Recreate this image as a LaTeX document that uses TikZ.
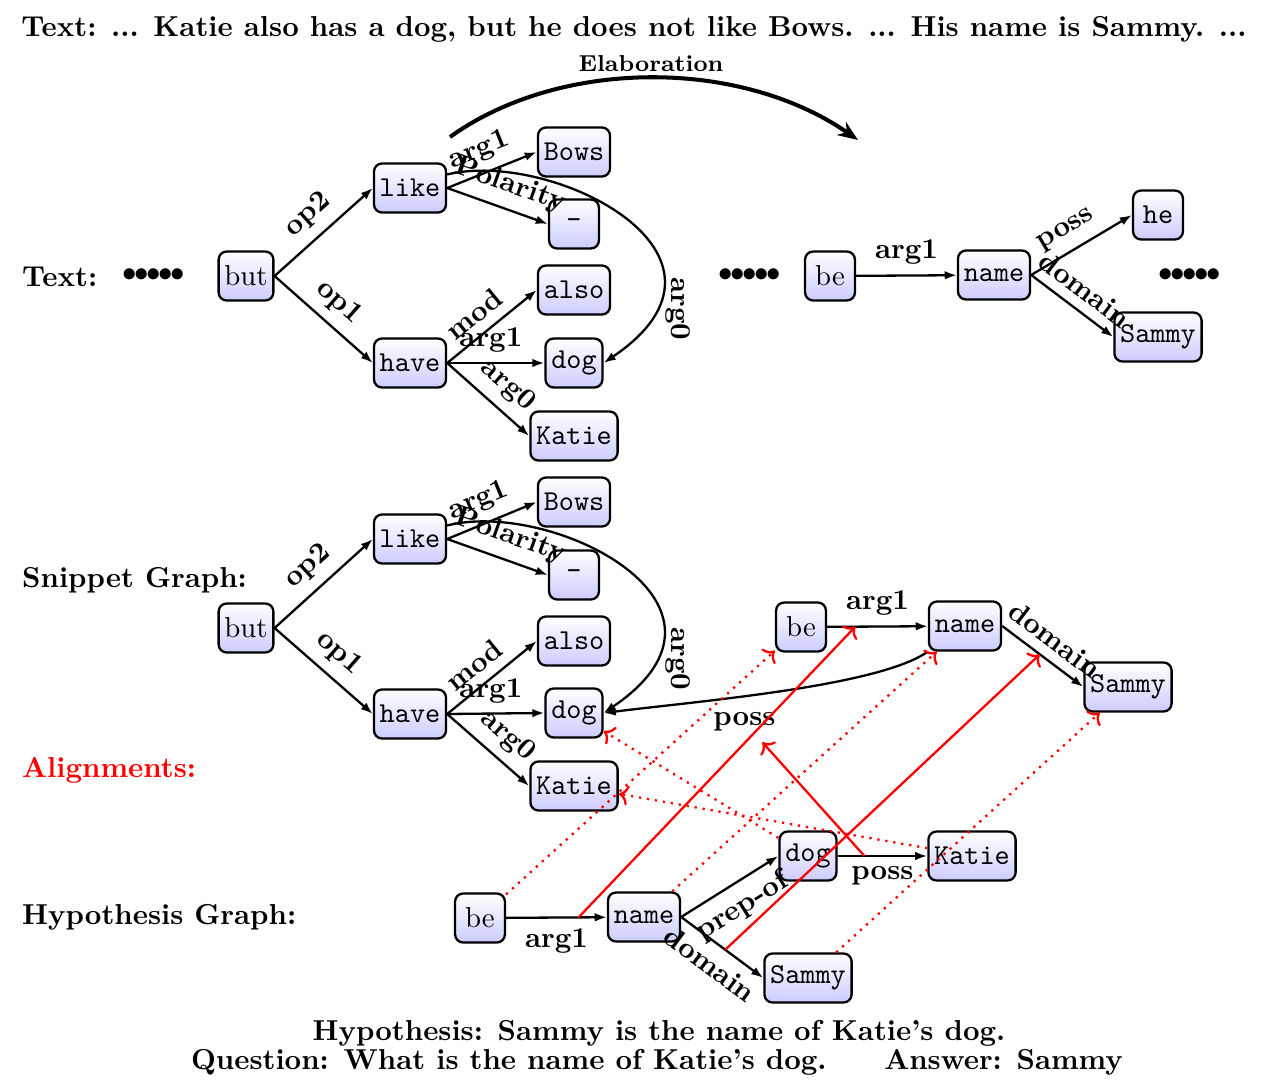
\documentclass[tikz,border=0pt]{standalone}
\usepackage{tikz}
\usetikzlibrary{arrows.meta, positioning}

\begin{document}
\begin{tikzpicture}[
  x=0.347pt, y=0.347pt,
  amr/.style={draw, thick, rounded corners=2.8pt, top color=white, bottom color=blue!20, font=\ttfamily, minimum width=17.3pt, minimum height=17pt, inner xsep=2pt},
  rel/.style={-{Latex[length=4.2pt, width=3pt]}, thick},
  lbl/.style={font=\bfseries},
  side/.style={font=\bfseries, anchor=west},
  dots/.style={font=\bfseries},
  nodealign/.style={->, red, thick, dotted},
  edgealign/.style={->, red, thick},
  elab/.style={-{Stealth[length=7pt, width=5.5pt]}, line width=1.4pt},
]
\useasboundingbox (0,0) rectangle (1268,1090);

% Sentences
\node[font=\bfseries] (title) at (634,1061) {Text: ... Katie also has a dog, but he does not like Bows. ... His name is Sammy. ...};
\node[font=\bfseries] (hypText) at (659,57) {Hypothesis: Sammy is the name of Katie's dog.};
\node[font=\bfseries] (qaText) at (657,28) {Question: What is the name of Katie's dog.\qquad Answer: Sammy};

% Row labels
\node[side] (textLbl) at (12,813) {Text:};
\node[side] (snipLbl) at (12,510) {Snippet Graph:};
\node[side, text=red] (alignLbl) at (12,320) {Alignments:};
\node[side] (hypLbl) at (12,173) {Hypothesis Graph:};

% Text graph
\node[dots] (tDotsL) at (154,815) {${\bullet}\mkern-1.5mu{\bullet}\mkern-1.5mu{\bullet}\mkern-1.5mu{\bullet}\mkern-1.5mu{\bullet}$};
\node[amr, font=\rmfamily] (tBut) at (246,814) {but};
\node[amr] (tLike) at (410,902) {like};
\node[amr] (tHave) at (410,727) {have};
\node[amr] (tBows) at (574,938) {Bows};
\node[amr] (tNeg) at (574,866) {-};
\node[amr] (tAlso) at (574,800) {also};
\node[amr] (tDog) at (574,727) {dog};
\node[amr] (tKatie) at (574,654) {Katie};

\node[dots] (tDotsM) at (750,815) {${\bullet}\mkern-1.5mu{\bullet}\mkern-1.5mu{\bullet}\mkern-1.5mu{\bullet}\mkern-1.5mu{\bullet}$};
\node[amr, font=\rmfamily] (tBe) at (830,814) {be};
\node[amr] (tName) at (994,815) {name};
\node[amr] (tHe) at (1158,875) {he};
\node[amr] (tSammy) at (1158,753) {Sammy};
\node[dots] (tDotsR) at (1190,815) {${\bullet}\mkern-1.5mu{\bullet}\mkern-1.5mu{\bullet}\mkern-1.5mu{\bullet}\mkern-1.5mu{\bullet}$};

\draw[rel] (tBut.east) -- node[lbl, sloped, above] {op2} (tLike.west);
\draw[rel] (tBut.east) -- node[lbl, sloped, above] {op1} (tHave.west);
\draw[rel] (tLike.east) -- node[lbl, sloped, above, pos=0.45] {arg1} (tBows.west);
\draw[rel] (tLike.east) -- node[lbl, sloped, above, pos=0.55] {Polarity} (tNeg.west);
\draw[rel] (tLike.20) .. controls (552,941) and (763,835) .. node[lbl, pos=0.83, rotate=-90, anchor=south] {arg0} (tDog.east);
\draw[rel] (tHave.east) -- node[lbl, sloped, above, pos=0.45] {mod} (tAlso.west);
\draw[rel] (tHave.east) -- node[lbl, above, pos=0.45] {arg1} (tDog.west);
\draw[rel] (tHave.east) -- node[lbl, sloped, above, pos=0.55] {arg0} (tKatie.west);

\draw[rel] (tBe) -- node[lbl, above] {arg1} (tName);
\draw[rel] (tName.east) -- node[lbl, sloped, above, pos=0.45] {poss} (tHe.west);
\draw[rel] (tName.east) -- node[lbl, sloped, above, pos=0.5] {domain} (tSammy.west);

% Elaboration
\coordinate (elabA) at (450,953);
\coordinate (elabB) at (858,950);
\draw[elab] (elabA) .. controls (560,1032) and (740,1032) .. node[above, inner sep=1.5pt, font=\footnotesize\bfseries] (elabLbl) {Elaboration} (elabB);

% Snippet graph
\node[amr, font=\rmfamily] (sBut) at (246,462) {but};
\node[amr] (sLike) at (410,551) {like};
\node[amr] (sHave) at (410,376) {have};
\node[amr] (sBows) at (574,588) {Bows};
\node[amr] (sNeg) at (574,515) {-};
\node[amr] (sAlso) at (574,449) {also};
\node[amr] (sDog) at (574,377) {dog};
\node[amr] (sKatie) at (574,304) {Katie};

\node[amr, font=\rmfamily] (sBe) at (801,463) {be};
\node[amr] (sName) at (965,464) {name};
\node[amr] (sSammy) at (1128,403) {Sammy};

\draw[rel] (sBut.east) -- node[lbl, sloped, above] {op2} (sLike.west);
\draw[rel] (sBut.east) -- node[lbl, sloped, above] {op1} (sHave.west);
\draw[rel] (sLike.east) -- node[lbl, sloped, above, pos=0.45] {arg1} (sBows.west);
\draw[rel] (sLike.east) -- node[lbl, sloped, above, pos=0.55] {Polarity} (sNeg.west);
\draw[rel] (sLike.20) .. controls (552,591) and (763,485) .. node[lbl, pos=0.83, rotate=-90, anchor=south] {arg0} (sDog.east);
\draw[rel] (sHave.east) -- node[lbl, sloped, above, pos=0.45] {mod} (sAlso.west);
\draw[rel] (sHave.east) -- node[lbl, above, pos=0.45] {arg1} (sDog.west);
\draw[rel] (sHave.east) -- node[lbl, sloped, above, pos=0.55] {arg0} (sKatie.west);

\draw[rel] (sBe) -- node[lbl, above] (sArgLbl) {arg1} (sName);
\draw[rel] (sName.east) -- node[lbl, sloped, above] (sDomLbl) {domain} (sSammy.west);
\draw[rel] (sName.south west) .. controls +(-50,-35) and +(95,12) .. node[lbl, below=2pt, pos=0.6] (sPossLbl) {poss} (sDog.east);

% Hypothesis graph
\node[amr, font=\rmfamily] (hBe) at (480,172) {be};
\node[amr] (hName) at (644,173) {name};
\node[amr] (hDog) at (808,234) {dog};
\node[amr] (hKatie) at (972,234) {Katie};
\node[amr] (hSammy) at (808,112) {Sammy};

\draw[rel] (hBe) -- node[lbl, below] (hArgLbl) {arg1} (hName);
\draw[rel] (hName.east) -- node[lbl, sloped, below] {prep-of} (hDog.west);
\draw[rel] (hName.east) -- node[lbl, sloped, below] (hDomLbl) {domain} (hSammy.west);
\draw[rel] (hDog) -- node[lbl, below] (hPossLbl) {poss} (hKatie);

% Alignments
\draw[nodealign] (hBe) -- (sBe);
\draw[nodealign] (hName) -- (sName);
\draw[nodealign] (hDog) -- (sDog);
\draw[nodealign] (hKatie) -- (sKatie);
\draw[nodealign] (hSammy) -- (sSammy);

\draw[edgealign] (hArgLbl) -- (sArgLbl);
\draw[edgealign] (hDomLbl) -- (sDomLbl);
\draw[edgealign] (hPossLbl) -- (sPossLbl);

\end{tikzpicture}
\end{document}
